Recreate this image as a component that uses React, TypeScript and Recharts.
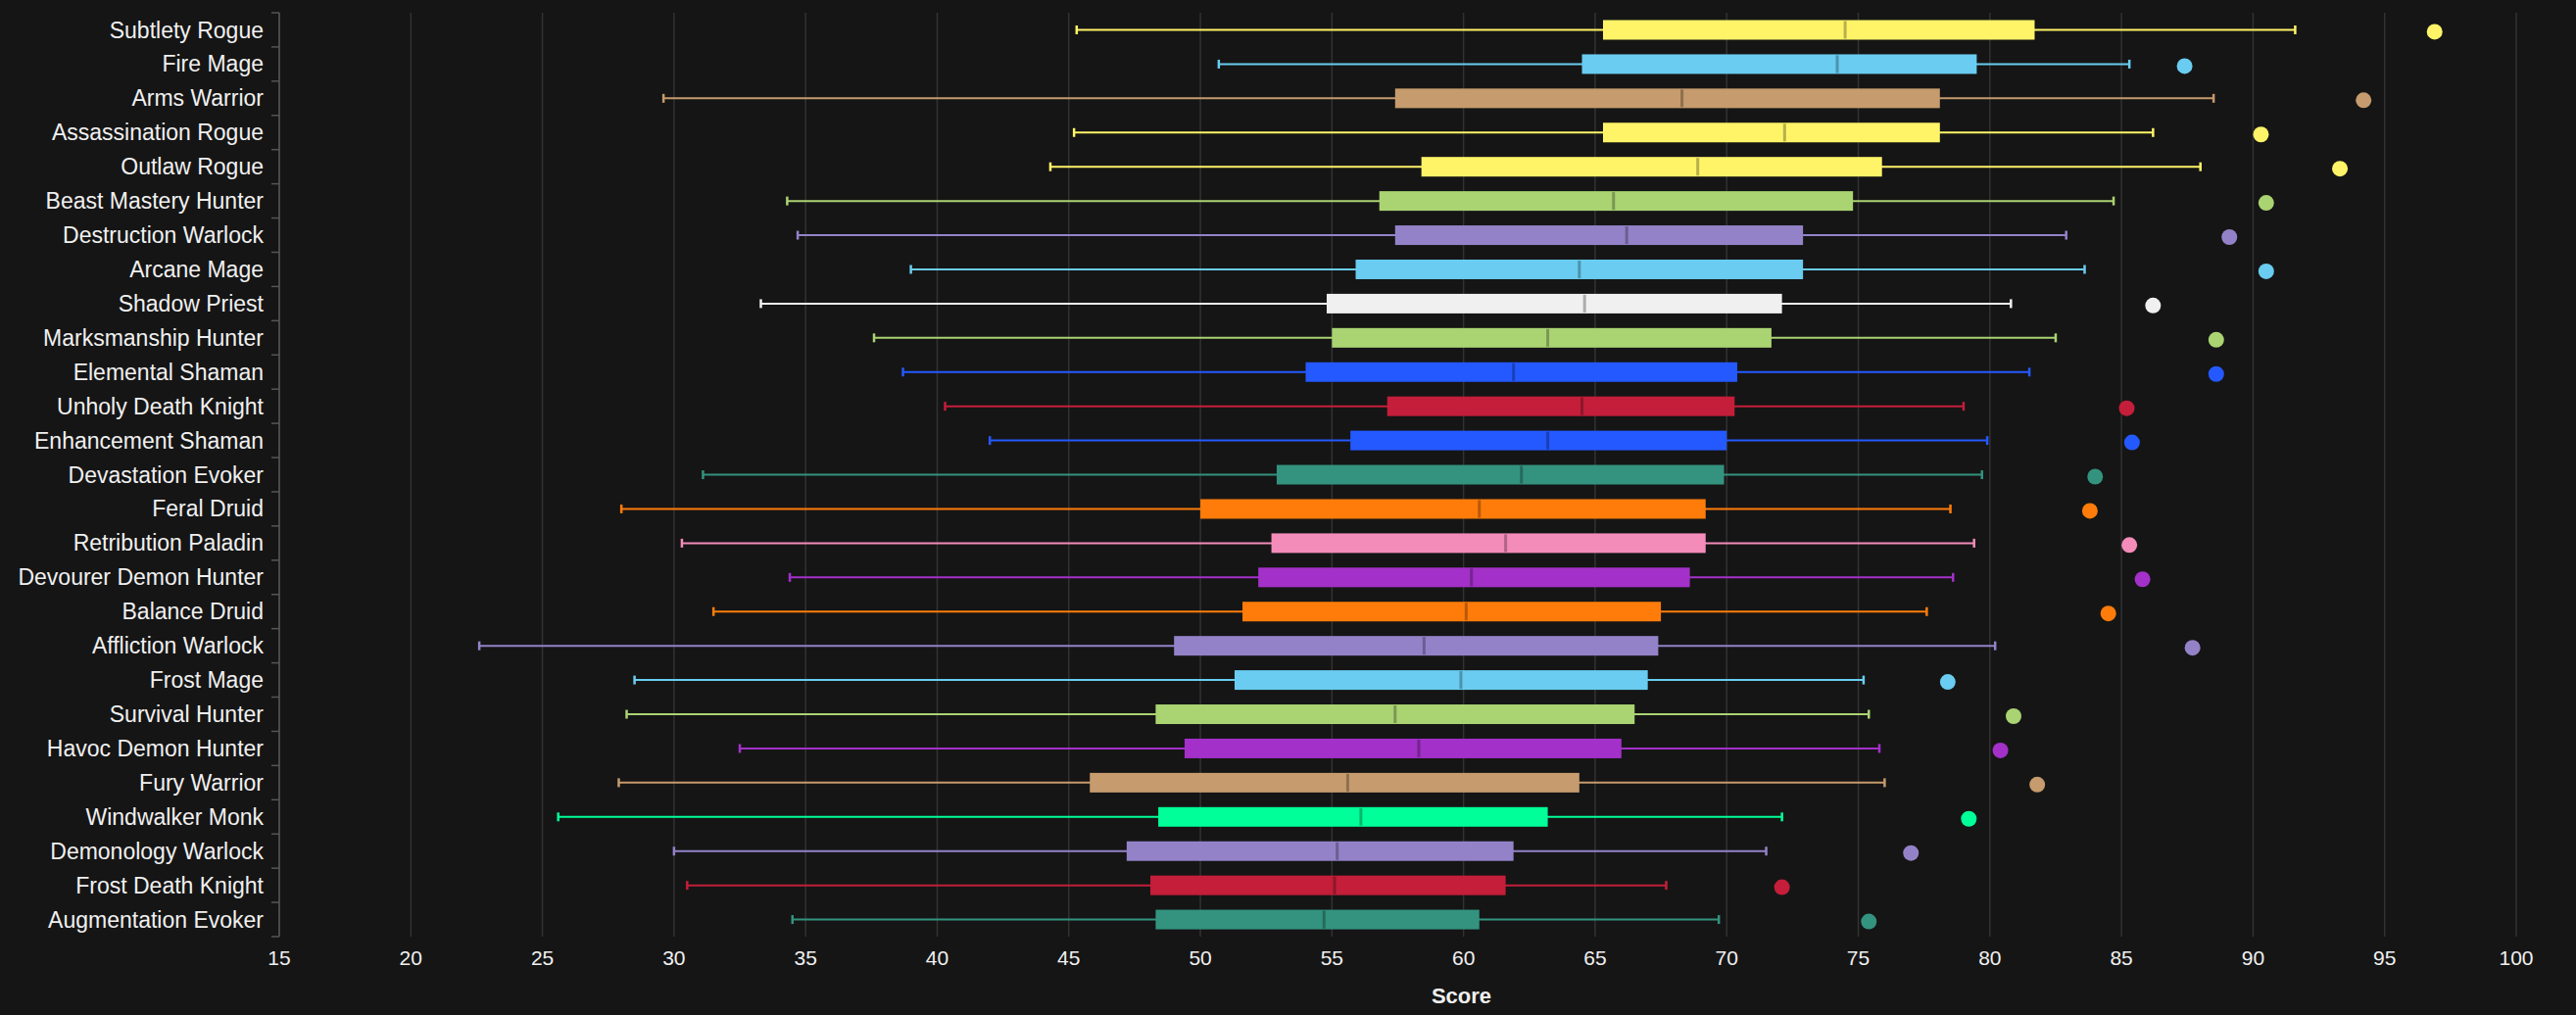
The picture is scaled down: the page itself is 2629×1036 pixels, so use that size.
import { ComposedChart, Bar, Line, XAxis, YAxis, CartesianGrid } from 'recharts'

// Score distribution per spec, top to bottom
const SPECS = [
  'Subtlety Rogue', 'Fire Mage', 'Arms Warrior', 'Assassination Rogue', 'Outlaw Rogue',
  'Beast Mastery Hunter', 'Destruction Warlock', 'Arcane Mage', 'Shadow Priest', 'Marksmanship Hunter',
  'Elemental Shaman', 'Unholy Death Knight', 'Enhancement Shaman', 'Devastation Evoker', 'Feral Druid',
  'Retribution Paladin', 'Devourer Demon Hunter', 'Balance Druid', 'Affliction Warlock', 'Frost Mage',
  'Survival Hunter', 'Havoc Demon Hunter', 'Fury Warrior', 'Windwalker Monk', 'Demonology Warlock',
  'Frost Death Knight', 'Augmentation Evoker',
]
const LOW = [45.3, 50.7, 29.6, 45.2, 44.3, 34.3, 34.7, 39.0, 33.3, 37.6, 38.7, 40.3, 42.0, 31.1, 28.0, 30.3, 34.4, 31.5, 22.6, 28.5, 28.2, 32.5, 27.9, 25.6, 30.0, 30.5, 34.5]
const Q1 = [65.3, 64.5, 57.4, 65.3, 58.4, 56.8, 57.4, 55.9, 54.8, 55.0, 54.0, 57.1, 55.7, 52.9, 50.0, 52.7, 52.2, 51.6, 49.0, 51.3, 48.3, 49.4, 45.8, 48.4, 47.2, 48.1, 48.3]
const MEDIAN = [74.5, 74.2, 68.3, 72.2, 68.9, 65.7, 66.2, 64.4, 64.6, 63.2, 61.9, 64.5, 63.2, 62.2, 60.6, 61.6, 60.3, 60.1, 58.5, 59.9, 57.4, 58.3, 55.6, 56.1, 55.2, 55.1, 54.7]
const Q3 = [81.7, 79.5, 78.1, 78.1, 75.9, 74.8, 72.9, 72.9, 72.1, 71.7, 70.4, 70.3, 70.0, 69.9, 69.2, 69.2, 68.6, 67.5, 67.4, 67.0, 66.5, 66.0, 64.4, 63.2, 61.9, 61.6, 60.6]
const HIGH = [91.6, 85.3, 88.5, 86.2, 88.0, 84.7, 82.9, 83.6, 80.8, 82.5, 81.5, 79.0, 79.9, 79.7, 78.5, 79.4, 78.6, 77.6, 80.2, 75.2, 75.4, 75.8, 76.0, 72.1, 71.5, 67.7, 69.7]
const OUTLIER = [96.9, 87.4, 94.2, 90.3, 93.3, 90.5, 89.1, 90.5, 86.2, 88.6, 88.6, 85.2, 85.4, 84.0, 83.8, 85.3, 85.8, 84.5, 87.7, 78.4, 80.9, 80.4, 81.8, 79.2, 77.0, 72.1, 75.4]
const X_TICKS = [15, 20, 25, 30, 35, 40, 45, 50, 55, 60, 65, 70, 75, 80, 85, 90, 95, 100]

const CLASS_COLORS: Record<string, string> = {
  'Death Knight': '#C41E3A',
  'Demon Hunter': '#A330C9',
  Rogue: '#FFF468',
  Mage: '#69CCF0',
  Warrior: '#C69B6D',
  Hunter: '#AAD372',
  Warlock: '#9482C9',
  Priest: '#F0F0F0',
  Shaman: '#2459FF',
  Evoker: '#33937F',
  Druid: '#FF7C0A',
  Paladin: '#F48CBA',
  Monk: '#00FF98',
}

const specColor = (name: string) => {
  const key = Object.keys(CLASS_COLORS).find(k => name.endsWith(k))
  return key ? CLASS_COLORS[key] : '#ccc'
}

const darken = (hex: string, f = 0.72) => {
  const n = parseInt(hex.slice(1), 16)
  const r = Math.round(((n >> 16) & 255) * f)
  const g = Math.round(((n >> 8) & 255) * f)
  const b = Math.round((n & 255) * f)
  return `rgb(${r},${g},${b})`
}

const data = SPECS.map((name, i) => ({
  name, low: LOW[i], q1: Q1[i], median: MEDIAN[i], q3: Q3[i], high: HIGH[i], outlier: OUTLIER[i],
}))

const W = 2613
const H = 1020
const MARGIN = { top: 5, right: 53, left: 0, bottom: 0 }
const Y_AXIS_W = 277
const X_AXIS_H = 72
const BAND = (H - MARGIN.top - MARGIN.bottom - X_AXIS_H) / SPECS.length
const FONT = '"Liberation Sans", Arial, sans-serif'
const TEXT = '#f0f0f0'

function BoxShape(props: any) {
  const { x, y, width, height, payload } = props
  const color = specColor(payload.name)
  const cy = y + height / 2
  const px = (v: number) => x + (width * (v - payload.low)) / (payload.high - payload.low)
  const x1 = px(payload.q1)
  const x3 = px(payload.q3)
  const xm = px(payload.median)
  return (
    <g>
      <line x1={x} x2={x + width} y1={cy} y2={cy} stroke={color} strokeWidth={2} />
      <line x1={x} x2={x} y1={cy - 4.5} y2={cy + 4.5} stroke={color} strokeWidth={2.5} />
      <line x1={x + width} x2={x + width} y1={cy - 4.5} y2={cy + 4.5} stroke={color} strokeWidth={2.5} />
      <rect x={x1} y={cy - 10} width={x3 - x1} height={20} fill={color} />
      <line x1={xm} x2={xm} y1={cy - 9} y2={cy + 9} stroke={darken(color)} strokeWidth={3} />
    </g>
  )
}

function SpecTick(props: any) {
  const { y, payload, index } = props
  const ax = MARGIN.left + Y_AXIS_W
  return (
    <g>
      <text x={ax - 16} y={y} dy="0.35em" textAnchor="end" fill={TEXT} fontSize={23} fontFamily={FONT}>
        {payload.value}
      </text>
      <line x1={ax - 8} x2={ax} y1={y - BAND / 2} y2={y - BAND / 2} stroke="#555" strokeWidth={1.5} />
      {index === SPECS.length - 1 && (
        <line x1={ax - 8} x2={ax} y1={y + BAND / 2} y2={y + BAND / 2} stroke="#555" strokeWidth={1.5} />
      )}
    </g>
  )
}

function OutlierDot(props: any) {
  const { cx, cy, payload, index } = props
  return <circle key={`o-${index}`} cx={cx} cy={cy + 2} r={8} fill={specColor(payload.name)} />
}

export default function App() {
  return (
    <div style={{ position: 'fixed', left: 0, top: 0, width: 2629, height: 1036, background: '#151515' }}>
      <div style={{ position: 'absolute', left: 8, top: 8 }}>
        <ComposedChart width={W} height={H} data={data} layout="vertical" margin={MARGIN} barCategoryGap={0}>
          <CartesianGrid horizontal={false} stroke="#323232" strokeWidth={1.5} />
          <XAxis
            type="number"
            domain={[15, 100]}
            ticks={X_TICKS}
            interval={0}
            height={X_AXIS_H}
            axisLine={false}
            tickLine={false}
            tickSize={6}
            tickMargin={8}
            tick={{ fill: TEXT, fontSize: 21, fontFamily: FONT }}
            label={{ value: 'Score', position: 'insideBottom', offset: 4, dx: 65, fill: TEXT, fontSize: 22, fontWeight: 'bold', fontFamily: FONT }}
          />
          <YAxis
            type="category"
            dataKey="name"
            width={Y_AXIS_W}
            interval={0}
            axisLine={{ stroke: '#555', strokeWidth: 1.5 }}
            tickLine={false}
            tick={<SpecTick />}
          />
          <Bar dataKey={(d: any) => [d.low, d.high]} shape={<BoxShape />} isAnimationActive={false} />
          <Line dataKey="outlier" stroke="none" dot={<OutlierDot />} activeDot={false} isAnimationActive={false} />
        </ComposedChart>
      </div>
    </div>
  )
}
